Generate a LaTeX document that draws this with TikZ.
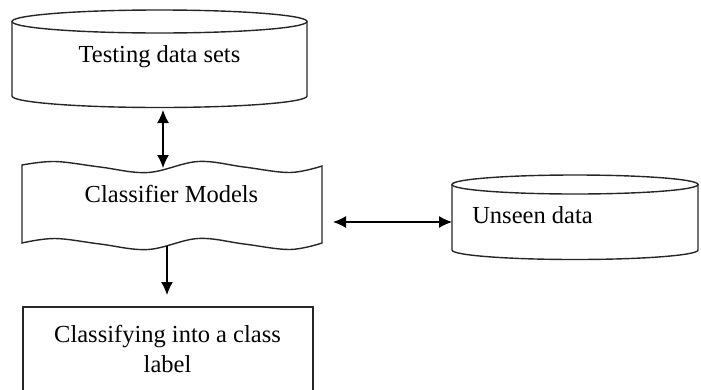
\documentclass[tikz,border=0pt]{standalone}
\usepackage{fontspec}
\setmainfont{Liberation Serif}
\usetikzlibrary{arrows.meta}
\begin{document}
\begin{tikzpicture}[x=1pt,y=-1pt,
  outline/.style={draw=black!85,line width=1.4pt},
  twoway/.style={draw=black,line width=1.3pt,
    {Latex[length=13pt,width=12pt]}-{Latex[length=13pt,width=12pt]}},
  oneway/.style={draw=black,line width=1.3pt,-{Latex[length=13pt,width=12pt]}},
  txt/.style={font=\fontsize{24.5}{30}\selectfont,inner sep=0pt,anchor=base,
    text=black,align=center}]
\useasboundingbox (0,0) rectangle (701,389);
\clip (0,0) rectangle (701,389);

% testing data store (cylinder)
\draw[outline] (12,21.5) -- (12,96)
  arc[start angle=180,end angle=0,x radius=147.5,y radius=11.5] -- (307,21.5);
\draw[outline] (159.5,21.5) ellipse[x radius=147.5,y radius=11.5];
\node[txt] (test) at (159.5,62) {Testing data sets};

% classifier models (punched tape)
\draw[outline]
  plot[smooth,tension=0.6] coordinates {(22,165) (55,161.5) (100,167) (148,172.5)
    (198,161.5) (244,167) (290,172.5) (322,166)}
  -- (322,243)
  -- plot[smooth,tension=0.6] coordinates {(322,243) (290,249.5) (244,244)
    (198,238.5) (148,249.5) (100,244) (55,238.5) (22,243)}
  -- cycle;
\node[txt] (cls) at (171.5,202) {Classifier Models};

% unseen data store (cylinder)
\draw[outline] (452,184.5) -- (452,250)
  arc[start angle=180,end angle=0,x radius=123,y radius=9.5] -- (698,184.5);
\draw[outline] (575,184.5) ellipse[x radius=123,y radius=9.5];
\node[txt] (unseen) at (532.5,223) {Unseen data};

% output box (runs past the lower edge)
\draw[outline] (23,307) rectangle (313,400);
\node[txt] (out) at (167.5,372) {Classifying into a class\\label};

% connector end points on the shape outlines
\coordinate (test-s) at (163,110);
\coordinate (cls-n) at (163,168);
\coordinate (cls-e) at (333,222);
\coordinate (unseen-w) at (452,222);
\coordinate (cls-s) at (167,246);
\coordinate (out-n) at (167,295);

\draw[twoway] (test-s) -- (cls-n);
\draw[twoway] (cls-e) -- (unseen-w);
\draw[oneway] (cls-s) -- (out-n);
\end{tikzpicture}
\end{document}
